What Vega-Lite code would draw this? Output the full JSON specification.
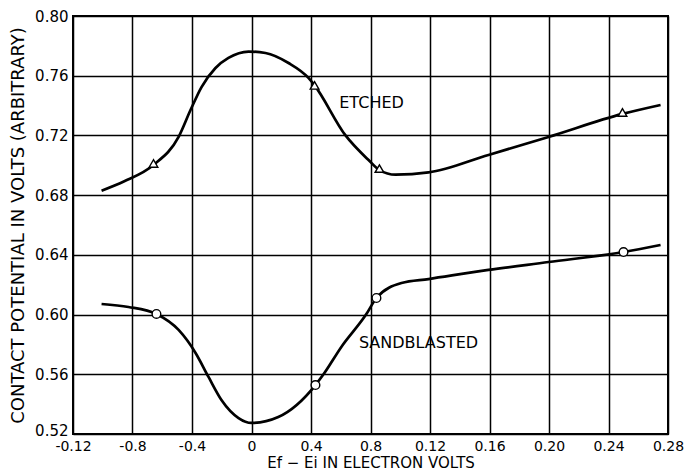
{
  "$schema": "https://vega.github.io/schema/vega-lite/v6.json",
  "autosize": "none",
  "width": 595,
  "height": 418,
  "padding": {"left": 73, "top": 16, "right": 18, "bottom": 37},
  "background": "white",
  "config": {
    "font": "DejaVu Sans",
    "view": {"stroke": "black", "strokeWidth": 2},
    "axis": {
      "grid": true, "gridColor": "black", "gridWidth": 1.5, "gridOpacity": 1,
      "domain": false, "ticks": false, "labelFlush": false, "labelOverlap": false,
      "labelFont": "DejaVu Sans", "labelColor": "black",
      "titleFont": "DejaVu Sans", "titleColor": "black", "titleFontWeight": "normal"
    }
  },
  "datasets": {
    "curves": [
      {"series": "etched", "x": -0.1008, "y": 0.683},
      {"series": "etched", "x": -0.0855, "y": 0.6893},
      {"series": "etched", "x": -0.0659, "y": 0.7002},
      {"series": "etched", "x": -0.049, "y": 0.719},
      {"series": "etched", "x": -0.041, "y": 0.737},
      {"series": "etched", "x": -0.0336, "y": 0.7524},
      {"series": "etched", "x": -0.0242, "y": 0.7652},
      {"series": "etched", "x": -0.0155, "y": 0.7719},
      {"series": "etched", "x": -0.002, "y": 0.7762},
      {"series": "etched", "x": 0.0094, "y": 0.7752},
      {"series": "etched", "x": 0.0249, "y": 0.7685},
      {"series": "etched", "x": 0.0383, "y": 0.7585},
      {"series": "etched", "x": 0.0424, "y": 0.7535},
      {"series": "etched", "x": 0.0632, "y": 0.72},
      {"series": "etched", "x": 0.0787, "y": 0.7035},
      {"series": "etched", "x": 0.086, "y": 0.6968},
      {"series": "etched", "x": 0.0968, "y": 0.6937},
      {"series": "etched", "x": 0.119, "y": 0.6952},
      {"series": "etched", "x": 0.1593, "y": 0.7069},
      {"series": "etched", "x": 0.1997, "y": 0.719},
      {"series": "etched", "x": 0.2494, "y": 0.7344},
      {"series": "etched", "x": 0.275, "y": 0.7404},
      {"series": "sandblasted", "x": -0.1008, "y": 0.6071},
      {"series": "sandblasted", "x": -0.0827, "y": 0.6051},
      {"series": "sandblasted", "x": -0.0639, "y": 0.6004},
      {"series": "sandblasted", "x": -0.049, "y": 0.5897},
      {"series": "sandblasted", "x": -0.0376, "y": 0.5743},
      {"series": "sandblasted", "x": -0.0289, "y": 0.5582},
      {"series": "sandblasted", "x": -0.0202, "y": 0.5428},
      {"series": "sandblasted", "x": -0.0087, "y": 0.5307},
      {"series": "sandblasted", "x": 0.0, "y": 0.5274},
      {"series": "sandblasted", "x": 0.018, "y": 0.5314},
      {"series": "sandblasted", "x": 0.043, "y": 0.5528},
      {"series": "sandblasted", "x": 0.0484, "y": 0.56},
      {"series": "sandblasted", "x": 0.0605, "y": 0.5785},
      {"series": "sandblasted", "x": 0.077, "y": 0.60},
      {"series": "sandblasted", "x": 0.084, "y": 0.6111},
      {"series": "sandblasted", "x": 0.1008, "y": 0.6211},
      {"series": "sandblasted", "x": 0.119, "y": 0.6238},
      {"series": "sandblasted", "x": 0.1593, "y": 0.6299},
      {"series": "sandblasted", "x": 0.1997, "y": 0.6352},
      {"series": "sandblasted", "x": 0.2501, "y": 0.6419},
      {"series": "sandblasted", "x": 0.275, "y": 0.6466}
    ],
    "markers": [
      {"series": "etched", "x": -0.0659, "y": 0.7012},
      {"series": "etched", "x": 0.0424, "y": 0.7535},
      {"series": "etched", "x": 0.086, "y": 0.6978},
      {"series": "etched", "x": 0.2494, "y": 0.7354},
      {"series": "sandblasted", "x": -0.0639, "y": 0.6004},
      {"series": "sandblasted", "x": 0.043, "y": 0.5528},
      {"series": "sandblasted", "x": 0.084, "y": 0.6111},
      {"series": "sandblasted", "x": 0.2501, "y": 0.6419}
    ],
    "labels": [
      {"text": "ETCHED", "x": 0.0807, "y": 0.7417},
      {"text": "SANDBLASTED", "x": 0.1123, "y": 0.581}
    ]
  },
  "encoding": {
    "x": {
      "field": "x", "type": "quantitative",
      "scale": {"domain": [-0.12, 0.28], "nice": false, "zero": false},
      "axis": {
        "values": [-0.12, -0.08, -0.04, 0, 0.04, 0.08, 0.12, 0.16, 0.2, 0.24, 0.28],
        "labelExpr": "datum.value == 0 ? '0' : datum.value == -0.08 ? '-0.8' : datum.value == -0.04 ? '-0.4' : datum.value == 0.04 ? '0.4' : datum.value == 0.08 ? '0.8' : datum.value == -0.12 ? '-0.12' : format(datum.value, '.2f')",
        "labelFontSize": 14,
        "labelPadding": 5,
        "title": "Ef − Ei  IN ELECTRON VOLTS",
        "titleFontSize": 15,
        "titlePadding": 2
      }
    },
    "y": {
      "field": "y", "type": "quantitative",
      "scale": {"domain": [0.52, 0.80], "nice": false, "zero": false},
      "axis": {
        "values": [0.52, 0.56, 0.6, 0.64, 0.68, 0.72, 0.76, 0.8],
        "format": ".2f",
        "labelFontSize": 15,
        "labelPadding": 5,
        "labelOffset": {"condition": {"test": "datum.value < 0.53", "value": -4}, "value": 0},
        "title": "CONTACT POTENTIAL IN VOLTS (ARBITRARY)",
        "titleFontSize": 18,
        "titlePadding": 7
      }
    }
  },
  "layer": [
    {
      "data": {"name": "curves"},
      "mark": {"type": "line", "interpolate": "monotone", "color": "black", "strokeWidth": 2.7},
      "encoding": {"detail": {"field": "series"}}
    },
    {
      "data": {"name": "markers"},
      "mark": {"type": "point", "filled": true, "fill": "white", "stroke": "black", "strokeWidth": 1.4, "opacity": 1},
      "encoding": {
        "shape": {"field": "series", "type": "nominal", "scale": {"domain": ["etched", "sandblasted"], "range": ["triangle-up", "circle"]}, "legend": null},
        "size": {"value": 75}
      }
    },
    {
      "data": {"name": "labels"},
      "mark": {"type": "text", "fontSize": 16, "color": "black", "font": "DejaVu Sans"},
      "encoding": {"text": {"field": "text"}}
    }
  ]
}
